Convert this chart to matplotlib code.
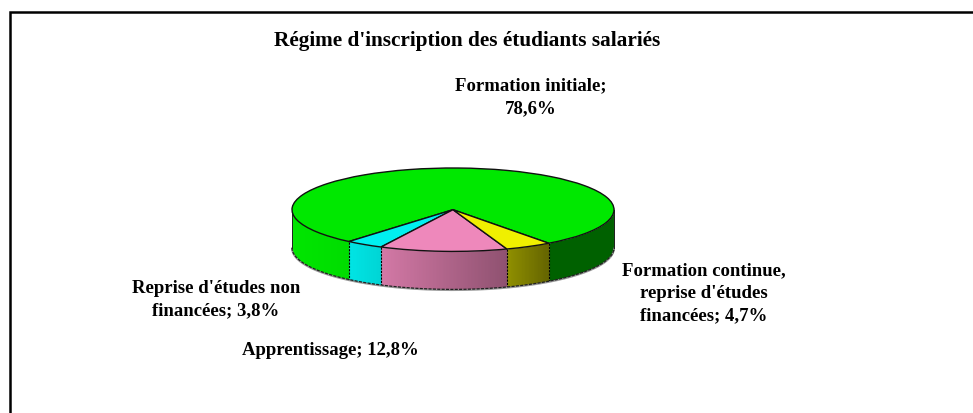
import numpy as np
import matplotlib
matplotlib.use('Agg')
import matplotlib.pyplot as plt
from matplotlib.colors import to_rgb

title = "Régime d'inscription des étudiants salariés"
values = [78.6, 3.8, 12.8, 4.7]
colors = ['#00e800', '#00f0f0', '#ee88bb', '#f0f000']
labels = ["Formation initiale;\n78,6%",
          "Reprise d'études non\nfinancées; 3,8%",
          "Apprentissage; 12,8%",
          "Formation continue,\nreprise d'études\nfinancées; 4,7%"]

W, H = 973, 414
plt.rcParams['font.family'] = ['Liberation Serif', 'DejaVu Serif']
fig = plt.figure(figsize=(W / 100, H / 100), dpi=100)

# page coords in pixels, for the frame and the texts
bg = fig.add_axes([0, 0, 1, 1])
bg.set_xlim(0, W)
bg.set_ylim(H, 0)
bg.axis('off')
bg.plot([10, 10, W], [H, 13, 13], color='black', lw=1.8, solid_joinstyle='miter')

FS = 13.5
bg.text(467, 46, title, ha='center', va='baseline', fontweight='bold', fontsize=15.3)
# y is the baseline of the last line
label_pos = [(531, 113), (216, 315), (330.5, 355), (703.5, 320)]
for lab, (x, y) in zip(labels, label_pos):
    bg.text(x, y, lab, ha='center', va='baseline', fontweight='bold', fontsize=FS, linespacing=1.41)

# the unit circle of this axes is the top ellipse of the pie
left, right, top, bottom = 292, 614, 169, 252.4
ax = fig.add_axes([left / W, 1 - bottom / H, (right - left) / W, (bottom - top) / H])
ax.patch.set_alpha(0)
depth = 38 / ((bottom - top) / 2)
start = -53.5


def shade(theta):
    c = np.cos(np.radians(theta))
    return np.interp(c, [-1, -0.64, -0.43, 0.335, 0.59, 1], [0.99, 0.95, 0.88, 0.6, 0.42, 0.42])


angles = start + np.concatenate([[0], np.cumsum(values)]) * 360 / sum(values)
# side wall, strip by strip so the shade can change. strips overlap to hide the seams
for i, col in enumerate(colors):
    rgb = np.array(to_rgb(col))
    a0, a1 = angles[i], angles[i + 1]
    for t0 in np.arange(a0, a1, 0.5):
        t1 = min(t0 + 1.5, a1)
        if np.sin(np.radians(t0)) > 0.03 and np.sin(np.radians(t1)) > 0.03:
            continue
        tt = np.radians(np.linspace(t0, t1, 4))
        # keep x increasing for fill_between
        order = np.argsort(np.cos(tt))
        xs = np.cos(tt)[order]
        ys = np.sin(tt)[order]
        ax.fill_between(xs, ys, ys - depth, color=rgb * shade(t0 + 0.25), lw=0, clip_on=False, zorder=1)
    # divider between two walls
    s = np.radians(a0)
    if np.sin(s) < 0:
        ax.plot([np.cos(s)] * 2, [np.sin(s), np.sin(s) - depth], color='black', lw=0.8, ls=(0, (2, 1)),
                clip_on=False, zorder=2)

tb = np.radians(np.linspace(180, 360, 200))
ax.plot(np.cos(tb), np.sin(tb) - depth - 0.02, color='#999999', lw=1.2, clip_on=False, zorder=2)
ax.plot(np.cos(tb), np.sin(tb) - depth, color='#222222', lw=0.9, ls=(0, (2.5, 1)), clip_on=False, zorder=3)
for x in (-1, 1):
    ax.plot([x, x], [0, -depth], color='#222222', lw=0.7, clip_on=False, zorder=3)

wedges, _ = ax.pie(values, colors=colors, startangle=start, counterclock=True, radius=1,
                   wedgeprops=dict(edgecolor='#111111', linewidth=1.0, zorder=4))
for w in wedges:
    w.set_clip_on(False)
ax.set_aspect('auto')
ax.set_xlim(-1, 1)
ax.set_ylim(-1, 1)
ax.axis('off')

fig.savefig('out.png', dpi=100)
